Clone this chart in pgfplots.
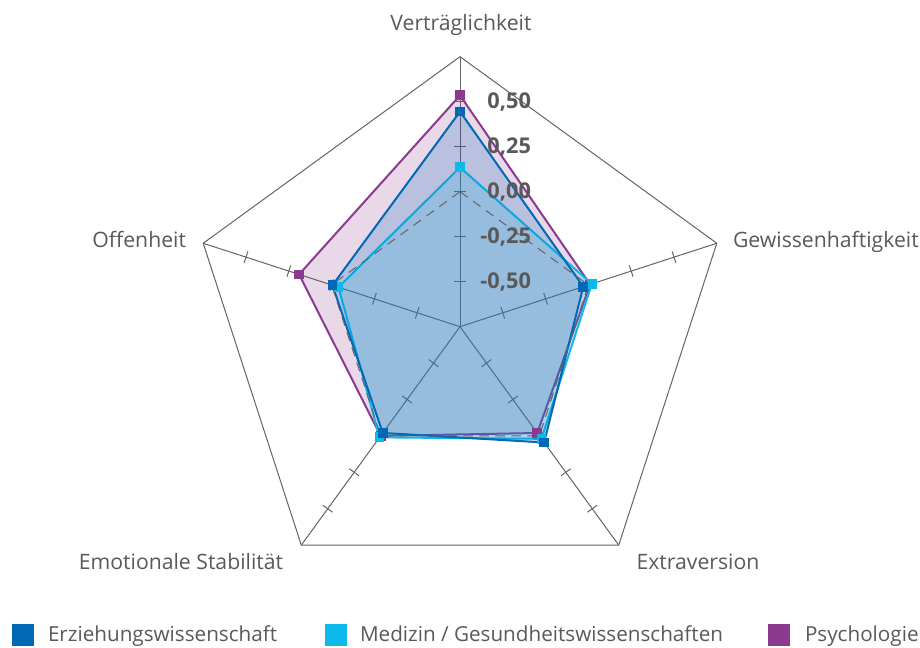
\documentclass[border=0pt]{standalone}
\usepackage{fontspec}
\setmainfont{Open Sans}
\usepackage{pgfplots}
\pgfplotsset{compat=1.18}
\usepackage{pgfplotstable}
\definecolor{erz}{RGB}{0,104,180}
\definecolor{med}{RGB}{12,185,235}
\definecolor{psy}{RGB}{139,58,142}
\definecolor{gridc}{RGB}{100,100,100}
\definecolor{txt}{RGB}{89,89,89}
\tikzset{
  lab/.style={inner sep=0pt, outer sep=0pt, text=txt, font=\fontsize{15.9}{19}\selectfont},
  leg/.style={inner sep=0pt, outer sep=0pt, text=txt, font=\fontsize{15.5}{19}\selectfont},
  tlab/.style={inner sep=0pt, outer sep=0pt, text=txt, anchor=east, font=\bfseries\fontsize{16.3}{19}\selectfont},
}

% angle (deg) and values per category: Verträglichkeit, Gewissenhaftigkeit, Extraversion, Emotionale Stabilität, Offenheit
\pgfplotstableread{
a erz med psy
90 0.445 0.135 0.535
18 -0.030 0.020 0.010
-54 0.045 0.020 -0.020
-126 -0.020 0.010 0.000
162 -0.005 -0.040 0.190
90 0.445 0.135 0.535
}\radardata

\begin{document}
\begin{tikzpicture}
\begin{axis}[
  width=690pt, height=486pt, scale only axis,
  xmin=0, xmax=920, ymin=0, ymax=648,
  hide axis, clip=false,
]
\path (axis cs:0,0) rectangle (axis cs:920,648);
% spokes and ticks
\pgfplotsinvokeforeach{90,18,-54,-126,162}{
  \draw[gridc, line width=0.75pt] (axis cs:460,321.3) -- (axis cs:{460+270*cos(#1)},{321.3+270*sin(#1)});
  \draw[gridc, line width=0.75pt] (axis cs:{460+45*cos(#1)-6*sin(#1)},{321.3+45*sin(#1)+6*cos(#1)}) -- (axis cs:{460+45*cos(#1)+6*sin(#1)},{321.3+45*sin(#1)-6*cos(#1)});
  \draw[gridc, line width=0.75pt] (axis cs:{460+90*cos(#1)-6*sin(#1)},{321.3+90*sin(#1)+6*cos(#1)}) -- (axis cs:{460+90*cos(#1)+6*sin(#1)},{321.3+90*sin(#1)-6*cos(#1)});
  \draw[gridc, line width=0.75pt] (axis cs:{460+135*cos(#1)-6*sin(#1)},{321.3+135*sin(#1)+6*cos(#1)}) -- (axis cs:{460+135*cos(#1)+6*sin(#1)},{321.3+135*sin(#1)-6*cos(#1)});
  \draw[gridc, line width=0.75pt] (axis cs:{460+180*cos(#1)-6*sin(#1)},{321.3+180*sin(#1)+6*cos(#1)}) -- (axis cs:{460+180*cos(#1)+6*sin(#1)},{321.3+180*sin(#1)-6*cos(#1)});
  \draw[gridc, line width=0.75pt] (axis cs:{460+225*cos(#1)-6*sin(#1)},{321.3+225*sin(#1)+6*cos(#1)}) -- (axis cs:{460+225*cos(#1)+6*sin(#1)},{321.3+225*sin(#1)-6*cos(#1)});
}
% outer pentagon
\draw[gridc, line width=0.75pt]
  (axis cs:{460+270*cos(90)},{321.3+270*sin(90)}) --
  (axis cs:{460+270*cos(18)},{321.3+270*sin(18)}) --
  (axis cs:{460+270*cos(-54)},{321.3+270*sin(-54)}) --
  (axis cs:{460+270*cos(-126)},{321.3+270*sin(-126)}) --
  (axis cs:{460+270*cos(162)},{321.3+270*sin(162)}) -- cycle;

% data
\addplot[psy, line width=1.5pt, fill=psy, fill opacity=0.2, mark=square*, mark size=3.3pt, mark options={fill opacity=1, fill=psy, line width=0pt}]
  table[x expr={460+(\thisrow{psy}+0.75)*180*cos(\thisrow{a})}, y expr={321.3+(\thisrow{psy}+0.75)*180*sin(\thisrow{a})}] {\radardata};
\addplot[med, line width=1.5pt, fill=med, fill opacity=0.2, mark=square*, mark size=3.3pt, mark options={fill opacity=1, fill=med, line width=0pt}]
  table[x expr={460+(\thisrow{med}+0.75)*180*cos(\thisrow{a})}, y expr={321.3+(\thisrow{med}+0.75)*180*sin(\thisrow{a})}] {\radardata};
\addplot[erz, line width=1.5pt, fill=erz, fill opacity=0.2, mark=square*, mark size=3.3pt, mark options={fill opacity=1, fill=erz, line width=0pt}]
  table[x expr={460+(\thisrow{erz}+0.75)*180*cos(\thisrow{a})}, y expr={321.3+(\thisrow{erz}+0.75)*180*sin(\thisrow{a})}] {\radardata};

% zero-level dashed pentagon
\draw[gridc, line width=0.75pt, dash pattern=on 7pt off 5pt]
  (axis cs:{460+135*cos(90)},{321.3+135*sin(90)}) --
  (axis cs:{460+135*cos(18)},{321.3+135*sin(18)}) --
  (axis cs:{460+135*cos(-54)},{321.3+135*sin(-54)}) --
  (axis cs:{460+135*cos(-126)},{321.3+135*sin(-126)}) --
  (axis cs:{460+135*cos(162)},{321.3+135*sin(162)}) -- cycle;

% radial tick labels
\node[tlab] at (axis cs:531,366.3) {-0,50};
\node[tlab] at (axis cs:531,411.3) {-0,25};
\node[tlab] at (axis cs:531,456.3) {0,00};
\node[tlab] at (axis cs:531,501.3) {0,25};
\node[tlab] at (axis cs:531,546.3) {0,50};

% category labels
\node[lab, anchor=base] at (axis cs:461,617.3) {Verträglichkeit};
\node[lab, anchor=base west] at (axis cs:733,400) {Gewissenhaftigkeit};
\node[lab, anchor=base east] at (axis cs:186,400) {Offenheit};
\node[lab, anchor=base] at (axis cs:181,78) {Emotionale Stabilität};
\node[lab, anchor=base] at (axis cs:698,78) {Extraversion};

% legend
\fill[erz] (axis cs:12,2) rectangle (axis cs:34,24);
\node[leg, anchor=base west] at (axis cs:48,6) {Erziehungswissenschaft};
\fill[med] (axis cs:325,2) rectangle (axis cs:347,24);
\node[leg, anchor=base west] at (axis cs:360,6) {Medizin / Gesundheitswissenschaften};
\fill[psy] (axis cs:768,2) rectangle (axis cs:790,24);
\node[leg, anchor=base west] at (axis cs:805,6) {Psychologie};
\end{axis}
\end{tikzpicture}
\end{document}
